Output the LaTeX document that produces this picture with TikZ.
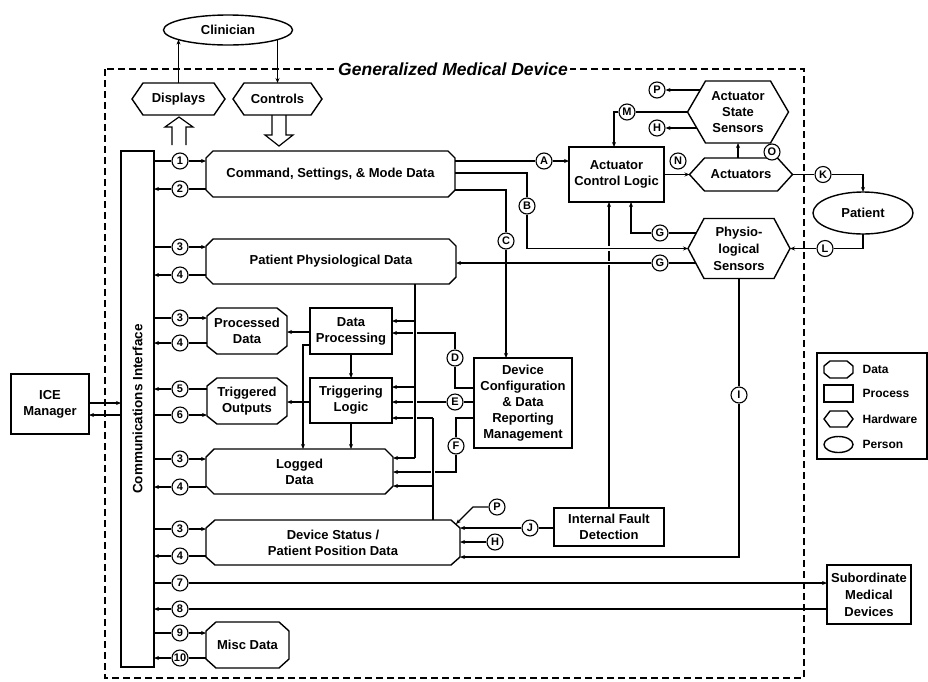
\documentclass[tikz,border=0pt]{standalone}
\usepackage{fontspec}
\setmainfont{Liberation Sans}
\usetikzlibrary{arrows.meta,shapes.geometric}
\newcommand\chamf[3]{\draw[boxline] ([xshift=#2]#1.north west) -- ([xshift=-#2]#1.north east) -- ([yshift=-#3]#1.north east) -- ([yshift=#3]#1.south east) -- ([xshift=-#2]#1.south east) -- ([xshift=#2]#1.south west) -- ([yshift=#3]#1.south west) -- ([yshift=-#3]#1.north west) -- cycle;}
\newcommand\hexo[2]{\draw[boxline] (#1.west) -- ([xshift=#2]#1.north west) -- ([xshift=-#2]#1.north east) -- (#1.east) -- ([xshift=-#2]#1.south east) -- ([xshift=#2]#1.south west) -- cycle;}
\newcommand\rowin[2]{\draw (comm.east |- #1) -- (#1); \draw[->] (#1) -- (#1 -| #2.west);}
\newcommand\rowout[2]{\draw (#1 -| #2.west) -- (#1); \draw[->] (#1) -- (comm.east |- #1);}
\begin{document}
\begin{tikzpicture}[x=1pt,y=-1pt, line width=1.2pt,
 >={Stealth[length=5pt,width=4pt]},
 font=\bfseries\fontsize{13}{16}\selectfont,
 boxline/.style={line width=1.4pt, line join=miter},
 pbox/.style={rectangle, draw, boxline, align=center, inner sep=2pt, outer sep=0pt},
 shp/.style={rectangle, align=center, inner sep=2pt, outer sep=0pt},
 person/.style={ellipse, draw, boxline, inner sep=0pt, outer sep=0pt},
 lab/.style={circle, draw, line width=1.1pt, fill=white, inner sep=0pt, minimum size=16pt, font=\bfseries\fontsize{11}{11}\selectfont},
 halo/.style={preaction={draw=white, line width=4.5pt, -, shorten <=2.5pt, shorten >=2.5pt}},
 dborder/.style={line width=1.4pt, dash pattern=on 7pt off 4pt},
 legt/.style={anchor=west, inner sep=0pt, font=\bfseries\fontsize{12}{14}\selectfont}]
\fill[white] (0,0) rectangle (928,681);
\useasboundingbox (0,0) rectangle (928,681);

% outer device border
\draw[dborder] (105,69) rectangle (804,678);
\node[fill=white, inner sep=2pt, font=\bfseries\itshape\fontsize{17.5}{20}\selectfont] (title) at (453,69) {Generalized Medical Device};

% clinician, displays, controls
\node[person, minimum width=129pt, minimum height=30pt] (clin) at (228,30) {Clinician};
\node[shp, minimum width=93pt, minimum height=32pt] (disp) at (178.5,99) {Displays};
\hexo{disp}{11pt}
\node[shp, minimum width=89pt, minimum height=32pt] (ctrl) at (277.5,99) {Controls};
\hexo{ctrl}{11pt}
\coordinate (clinL) at (178.5,39.6);
\coordinate (clinR) at (277.5,39.6);
\draw[->] (disp.north) -- (clinL);
\draw[->] (clinR) -- (ctrl.north);
% hollow arrows
\draw[line width=1.2pt, line join=miter] (172,145) -- (172,127) -- (165,127) -- (179,117) -- (193,127) -- (186,127) -- (186,145);
\draw[line width=1.2pt, line join=miter] (272,115) -- (272,135) -- (265,135) -- (279,146) -- (293,135) -- (286,135) -- (286,115);

% communications interface and ICE manager
\node[pbox, minimum width=33pt, minimum height=516pt] (comm) at (137.5,409) {};
\node[rotate=90, inner sep=0pt, font=\bfseries\fontsize{13.5}{16}\selectfont] (commt) at (137.5,409) {Communications Interface};
\node[pbox, minimum width=78pt, minimum height=60pt] (ice) at (50,404) {ICE\\Manager};

% data shapes
\node[shp, minimum width=249pt, minimum height=46pt] (cmd) at (330.5,174) {Command, Settings, \& Mode Data}; \chamf{cmd}{7pt}{7pt}
\node[shp, minimum width=250pt, minimum height=45pt] (ppd) at (331,261.5) {Patient Physiological Data}; \chamf{ppd}{7pt}{7pt}
\node[shp, minimum width=80pt, minimum height=46pt] (proc) at (247,331) {Processed\\Data}; \chamf{proc}{10pt}{8pt}
\node[shp, minimum width=80pt, minimum height=46pt] (trig) at (247,401) {Triggered\\Outputs}; \chamf{trig}{10pt}{8pt}
\node[shp, minimum width=187pt, minimum height=45pt] (logd) at (299.5,471.5) {Logged\\Data}; \chamf{logd}{8pt}{8pt}
\node[shp, minimum width=254pt, minimum height=45pt] (dsp) at (333,542.5) {Device Status /\\Patient Position Data}; \chamf{dsp}{9pt}{8pt}
\node[shp, minimum width=83pt, minimum height=46pt] (misc) at (247.5,645) {Misc Data}; \chamf{misc}{10pt}{9pt}

% processes
\node[pbox, minimum width=82pt, minimum height=46pt] (dp) at (351,331) {Data\\Processing};
\node[pbox, minimum width=82pt, minimum height=45pt] (tl) at (351,400.5) {Triggering\\Logic};
\node[pbox, minimum width=98pt, minimum height=90pt] (dcfg) at (523,403) {Device\\Configuration\\\& Data\\Reporting\\Management};
\node[pbox, minimum width=95pt, minimum height=55pt] (acl) at (616.5,174.5) {Actuator\\Control Logic};
\node[pbox, minimum width=110pt, minimum height=38pt] (ifd) at (609,527) {Internal Fault\\Detection};
\node[pbox, minimum width=84pt, minimum height=59pt, inner sep=1pt, font=\bfseries\fontsize{13}{17}\selectfont] (sub) at (869,594.5) {Subordinate\\Medical\\Devices};

% hardware
\node[shp, minimum width=103pt, minimum height=33pt] (act) at (741,174.5) {Actuators}; \hexo{act}{15pt}
\node[shp, minimum width=101pt, minimum height=62pt] (ass) at (738,112) {Actuator\\State\\Sensors}; \hexo{ass}{18pt}
\node[shp, minimum width=102pt, minimum height=60pt, font=\bfseries\fontsize{13}{17}\selectfont] (phs) at (739,248.5) {Physio-\\logical\\Sensors}; \hexo{phs}{16pt}
\node[person, minimum width=100pt, minimum height=42pt] (pat) at (863,213) {Patient};

% legend
\node[pbox, minimum width=110pt, minimum height=106pt] (leg) at (872,406) {};
\node[shp, minimum width=29pt, minimum height=17pt] (lg1) at (838.5,369.5) {}; \chamf{lg1}{6pt}{5pt}
\node[pbox, minimum width=29pt, minimum height=17pt] (lg2) at (838.5,393.5) {};
\node[shp, minimum width=29pt, minimum height=16pt] (lg3) at (838.5,419) {}; \hexo{lg3}{6pt}
\node[person, minimum width=29pt, minimum height=16pt] (lg4) at (838.5,444.5) {};
\node[legt] (lt1) at (862,369.5) {Data};
\node[legt] (lt2) at (862,393.5) {Process};
\node[legt] (lt3) at (862,419) {Hardware};
\node[legt] (lt4) at (862,444.5) {Person};

% numbered labels
\node[lab] (c1) at (180,161) {1};
\node[lab] (c2) at (180,189) {2};
\node[lab] (c3a) at (180,247) {3};
\node[lab] (c4a) at (180,275) {4};
\node[lab] (c3b) at (180,318) {3};
\node[lab] (c4b) at (180,343) {4};
\node[lab] (c5) at (180,389) {5};
\node[lab] (c6) at (180,415) {6};
\node[lab] (c3c) at (180,459) {3};
\node[lab] (c4c) at (180,487) {4};
\node[lab] (c3d) at (180,529) {3};
\node[lab] (c4d) at (180,556) {4};
\node[lab] (c7) at (180,583) {7};
\node[lab] (c8) at (180,609) {8};
\node[lab] (c9) at (180,633) {9};
\node[lab] (c10) at (180,658) {10};

% lettered labels
\node[lab] (A) at (544,161) {A};
\node[lab] (B) at (527,206) {B};
\node[lab] (C) at (506,241) {C};
\node[lab] (D) at (455,358) {D};
\node[lab] (E) at (455,402) {E};
\node[lab] (F) at (456,446) {F};
\node[lab] (G1) at (660,233) {G};
\node[lab] (G2) at (660,263) {G};
\node[lab] (P1) at (657,90) {P};
\node[lab] (H1) at (657,128) {H};
\node[lab] (M) at (627,112) {M};
\node[lab] (N) at (678,161) {N};
\node[lab] (O) at (772,152) {O};
\node[lab] (K) at (823,174.5) {K};
\node[lab] (L) at (825,248.5) {L};
\node[lab] (I) at (739,395) {I};
\node[lab] (J) at (530,528) {J};
\node[lab] (H2) at (495,542) {H};
\node[lab] (P2) at (497,507) {P};

% ICE links
\draw[->] ([yshift=1pt]ice.east) -- ([yshift=1pt]ice.east -| comm.west);
\draw[->] ([yshift=-11pt]ice.east -| comm.west) -- ([yshift=-11pt]ice.east);

% interface rows
\rowin{c1}{cmd} \rowout{c2}{cmd}
\rowin{c3a}{ppd} \rowout{c4a}{ppd}
\rowin{c3b}{proc} \rowout{c4b}{proc}
\rowout{c5}{trig} \rowin{c6}{trig}
\rowin{c3c}{logd} \rowout{c4c}{logd}
\rowin{c3d}{dsp} \rowout{c4d}{dsp}
\rowin{c7}{sub} \rowout{c8}{sub}
\rowin{c9}{misc} \rowout{c10}{misc}

% command data outputs
\draw (cmd.east |- A) -- (A); \draw[->] (A) -- (A -| acl.west);
\draw ([yshift=1pt]cmd.east) -| (B);
\draw ([yshift=-16pt]cmd.east) -| (C);

% fault detection to actuator control
\draw[->] (ifd.north) -- (ifd.north |- acl.south);
\draw (B) -- (B |- phs.west); \draw[->, halo] (B |- phs.west) -- (phs.west);
\coordinate (g1s) at (696.3,233);
\coordinate (g2s) at (695.7,263);
\draw (g1s) -- (G1); \draw[->] (G1) -| ([xshift=14.5pt]acl.south);
\draw (g2s) -- (G2); \draw[->, halo] (G2) -- (G2 -| ppd.east);
\draw[->] (C) -- (C |- dcfg.north);

% actuators and sensors
\draw[->] (acl.east) -- (act.west);
\draw[->] (act.north -| ass.south) -- (ass.south);
\draw (ass.west) -- (M); \draw[->] (M) -| ([xshift=-2.5pt]acl.north);
\coordinate (ap) at (700.3,90);
\coordinate (ah) at (696.8,128);
\draw[->] (ap) -- (P1);
\draw[->] (ah) -- (H1);
\draw (act.east) -- (K); \draw[->] (K) -| (pat.north);
\draw (pat.south) |- (L); \draw[->] (L) -- (L -| phs.east);
\draw (phs.south) -- (I); \draw[->] (I) |- ([yshift=-14.5pt]dsp.east);
\draw (ifd.west |- J) -- (J); \draw[->] (J) -- (J -| dsp.east);
\draw[->] (H2) -- (H2 -| dsp.east);
\coordinate (p2k) at (473,507);
\coordinate (dspc) at ([xshift=-4pt,yshift=-4pt]dsp.north east);
\draw[->] (P2) -- (p2k) -- (dspc);

% processing block
\draw[->] ([yshift=-1pt]dp.west) -- ([yshift=-1pt]dp.west -| proc.east);
\draw[->] ([yshift=-1.5pt]tl.west) -- ([yshift=-1.5pt]tl.west -| trig.east);
\draw[->] (dp.south) -- (tl.north);
\draw[->] (tl.south) -- (tl.south |- logd.north);
\coordinate (dpl) at (303,345);
\draw[->] (dp.west |- dpl) -- (dpl) -- (dpl |- logd.north);

% configuration links
\draw ([yshift=15pt]dcfg.west) -| (D); \draw[->] (D) |- ([yshift=-2pt]dp.east);
\draw ([yshift=1pt]dcfg.west) -- (E); \draw[->] (E) -- (E -| tl.east);
\draw ([yshift=-15pt]dcfg.west) -| (F); \draw[->] (F) |- ([yshift=-0.5pt]logd.east);

% device status feed
\coordinate (vt) at (433,418);
\coordinate (vb) at (433,486);
\draw[->] (vt) -- (vt -| tl.east);
\draw[halo] (dsp.north -| vt) -- (vt);
\draw[->] (vb) -- (vb -| logd.east);

% physiological data bus
\coordinate (bt) at (415,284);
\coordinate (bb) at (415,458);
\coordinate (b1) at (415,321);
\coordinate (b2) at (415,387);
\draw[halo] (bt) -- (bb);
\draw[->] (bb) -- (bb -| logd.east);
\draw[->] (b1) -- (b1 -| dp.east);
\draw[->] (b2) -- (b2 -| tl.east);
\end{tikzpicture}
\end{document}
